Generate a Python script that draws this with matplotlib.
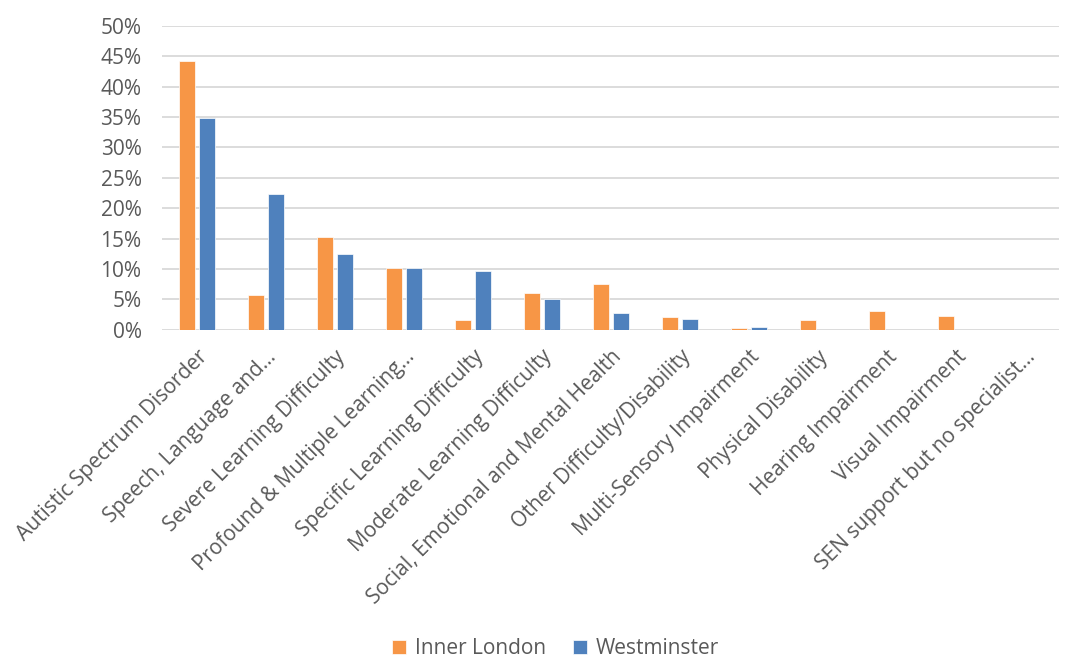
import matplotlib.pyplot as plt
import numpy as np
from matplotlib.ticker import PercentFormatter

plt.rcParams['font.family'] = ['Open Sans', 'DejaVu Sans']

categories = [
    "Autistic Spectrum Disorder",
    "Speech, Language and...",
    "Severe Learning Difficulty",
    "Profound & Multiple Learning...",
    "Specific Learning Difficulty",
    "Moderate Learning Difficulty",
    "Social, Emotional and Mental Health",
    "Other Difficulty/Disability",
    "Multi-Sensory Impairment",
    "Physical Disability",
    "Hearing Impairment",
    "Visual Impairment",
    "SEN support but no specialist...",
]
inner_london = [44.2, 5.7, 15.2, 10.2, 1.6, 6.0, 7.5, 2.1, 0.3, 1.6, 3.1, 2.3, 0.0]
westminster = [34.8, 22.3, 12.5, 10.2, 9.7, 5.1, 2.8, 1.8, 0.5, 0.0, 0.0, 0.0, 0.0]

text_col = '#595959'
orange = '#F79646'
blue = '#4F81BD'

fig = plt.figure(figsize=(10.68, 6.66), dpi=100)
ax = fig.add_axes([0.152, 0.505, 0.84, 0.456])

x = np.arange(len(categories))
w = 0.23
ax.bar(x - w / 2 - 0.03, np.array(inner_london) / 100, w, color=orange, label='Inner London',
       edgecolor='white', linewidth=0.5)
ax.bar(x + w / 2 + 0.03, np.array(westminster) / 100, w, color=blue, label='Westminster',
       edgecolor='white', linewidth=0.5)

ax.set_xlim(-0.5, len(categories) - 0.5)
ax.set_ylim(0, 0.5)
ax.set_yticks(np.arange(0, 0.51, 0.05))
ax.yaxis.set_major_formatter(PercentFormatter(1.0, decimals=0))
ax.grid(axis='y', color='#d9d9d9', linewidth=1.3)
ax.set_axisbelow(True)
for s in ax.spines.values():
    s.set_visible(False)
ax.tick_params(axis='both', length=0, labelsize=15, colors=text_col)
ax.tick_params(axis='y', pad=15)
ax.tick_params(axis='x', pad=12)
ax.set_xticks(x)
ax.set_xticklabels(categories, rotation=45, ha='right', rotation_mode='anchor')

fig.legend(loc='lower center', ncol=2, frameon=False, fontsize=15,
           bbox_to_anchor=(0.52, -0.018), handlelength=0.7, handleheight=0.7,
           columnspacing=1.3, handletextpad=0.4, labelcolor=text_col)

fig.savefig('out.png', dpi=100)
